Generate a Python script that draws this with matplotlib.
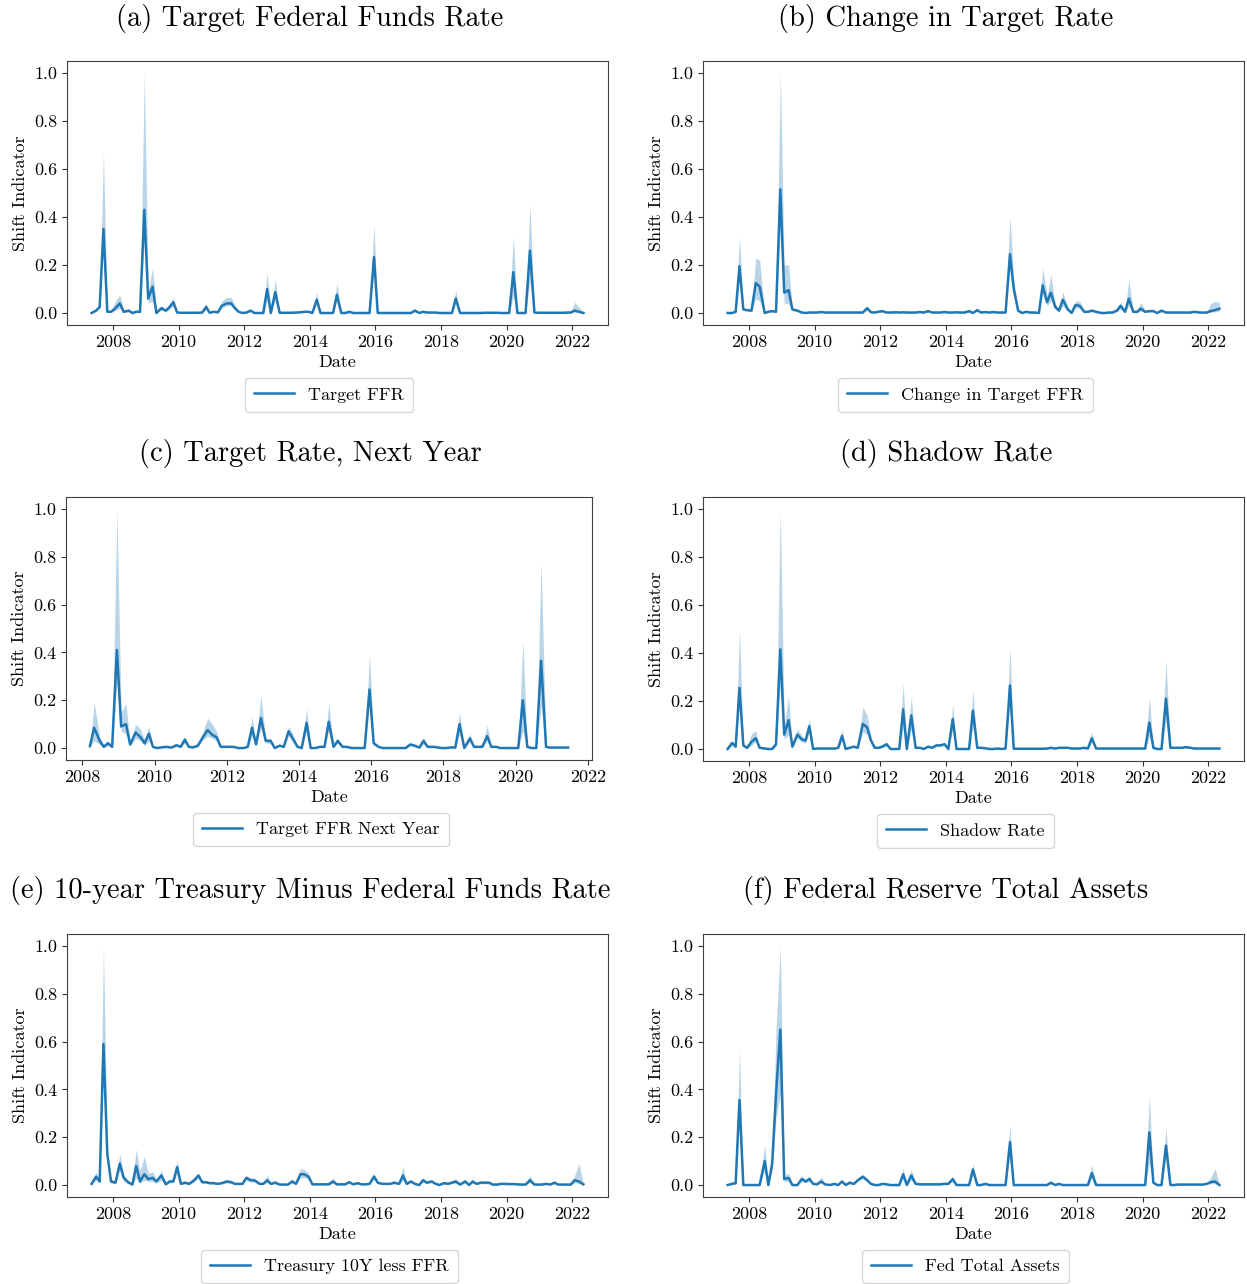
import numpy as np
import pandas as pd
import matplotlib
matplotlib.use("Agg")
import matplotlib.pyplot as plt
import matplotlib.dates as mdates

plt.rcParams['font.family'] = ['cmr10', 'DejaVu Serif']
plt.rcParams['mathtext.fontset'] = 'cm'
plt.rcParams['axes.formatter.use_mathtext'] = True
plt.rcParams['axes.unicode_minus'] = False

# meeting dates (one row per year)
dates = (
    ['2007-05-09', '2007-06-28', '2007-08-07', '2007-09-18', '2007-10-31', '2007-12-11'] +
    ['2008-01-30', '2008-03-18', '2008-04-30', '2008-06-25', '2008-08-05', '2008-09-16', '2008-10-29', '2008-12-16'] +
    ['2009-01-28', '2009-03-18', '2009-04-29', '2009-06-24', '2009-08-12', '2009-09-23', '2009-11-04', '2009-12-16'] +
    ['2010-01-27', '2010-03-16', '2010-04-28', '2010-06-23', '2010-08-10', '2010-09-21', '2010-11-03', '2010-12-14'] +
    ['2011-01-26', '2011-03-15', '2011-04-27', '2011-06-22', '2011-08-09', '2011-09-21', '2011-11-02', '2011-12-13'] +
    ['2012-01-25', '2012-03-13', '2012-04-25', '2012-06-20', '2012-08-01', '2012-09-13', '2012-10-24', '2012-12-12'] +
    ['2013-01-30', '2013-03-20', '2013-05-01', '2013-06-19', '2013-07-31', '2013-09-18', '2013-10-30', '2013-12-18'] +
    ['2014-01-29', '2014-03-19', '2014-04-30', '2014-06-18', '2014-07-30', '2014-09-17', '2014-10-29', '2014-12-17'] +
    ['2015-01-28', '2015-03-18', '2015-04-29', '2015-06-17', '2015-07-29', '2015-09-17', '2015-10-28', '2015-12-16'] +
    ['2016-01-27', '2016-03-16', '2016-04-27', '2016-06-15', '2016-07-27', '2016-09-21', '2016-11-02', '2016-12-14'] +
    ['2017-02-01', '2017-03-15', '2017-05-03', '2017-06-14', '2017-07-26', '2017-09-20', '2017-11-01', '2017-12-13'] +
    ['2018-01-31', '2018-03-21', '2018-05-02', '2018-06-13', '2018-08-01', '2018-09-26', '2018-11-08', '2018-12-19'] +
    ['2019-01-30', '2019-03-20', '2019-05-01', '2019-06-19', '2019-07-31', '2019-09-18', '2019-10-30', '2019-12-11'] +
    ['2020-01-29', '2020-03-15', '2020-04-29', '2020-06-10', '2020-07-29', '2020-09-16', '2020-11-05', '2020-12-16'] +
    ['2021-01-27', '2021-03-17', '2021-04-28', '2021-06-16', '2021-07-28', '2021-09-22', '2021-11-03', '2021-12-15'] +
    ['2022-01-26', '2022-03-16', '2022-05-04']
)
dates_c = dates[7:114]   # panel (c) covers Mar 2008 - Jun 2021

# (a) Target FFR
ffr_mean = [0, .01, .025, .35, .005, .005,
            .02, .04, .005, .01, 0, .005, .005, .43,
            .06, .11, 0, .02, .01, .025, .045, .002,
            .001, .001, .001, .001, .001, .002, .025, .001,
            .005, .003, .03, .04, .04, .02, .005, 0,
            .002, .01, 0, 0, 0, .10, 0, .087,
            .001, .001, .001, .001, .002, .003, .005, .005,
            0, .055, 0, 0, 0, 0, .076, 0,
            0, .005, 0, 0, 0, 0, 0, .233,
            0, 0, 0, 0, 0, 0, 0, 0,
            0, .01, 0, .005, .002, .002, .002, 0,
            0, 0, 0, .06, 0, 0, 0, 0,
            0, 0, .001, .001, .001, .001, 0, 0,
            0, .17, 0, 0, 0, .26, .002, .001,
            .001, .001, .001, .001, .001, .001, .002, .002,
            .01, .005, 0]
ffr_hi = [0, .012, .03, .67, .01, .008,
          .05, .075, .015, .015, .002, .008, .008, 1.0,
          .09, .19, .004, .03, .015, .035, .065, .004,
          .003, .003, .003, .003, .003, .004, .04, .003,
          .008, .006, .05, .065, .065, .03, .008, .002,
          .004, .015, .002, .002, .002, .17, .002, .14,
          .003, .003, .003, .003, .004, .005, .008, .008,
          .002, .085, .002, .002, .002, .002, .125, .002,
          .002, .008, .002, .002, .002, .002, .002, .37,
          .002, .002, .002, .002, .002, .002, .002, .002,
          .002, .015, .002, .008, .004, .004, .004, .002,
          .002, .002, .002, .095, .002, .002, .002, .002,
          .002, .002, .003, .003, .003, .003, .002, .002,
          .002, .32, .002, .002, .002, .455, .004, .003,
          .003, .003, .003, .003, .003, .003, .004, .004,
          .045, .025, .002]
ffr_lo = [0, .008, .02, .28, .002, .002,
          .01, .02, .002, .005, 0, .002, .002, .30,
          .04, .05, 0, .012, .005, .015, .03, 0,
          0, 0, 0, 0, 0, 0, .015, 0,
          .002, 0, .02, .03, .03, .01, .002, 0,
          0, .005, 0, 0, 0, .05, 0, .05,
          0, 0, 0, 0, 0, .001, .002, .002,
          0, .04, 0, 0, 0, 0, .05, 0,
          0, .002, 0, 0, 0, 0, 0, .17,
          0, 0, 0, 0, 0, 0, 0, 0,
          0, .005, 0, .002, 0, 0, 0, 0,
          0, 0, 0, .04, 0, 0, 0, 0,
          0, 0, 0, 0, 0, 0, 0, 0,
          0, .07, 0, 0, 0, .13, 0, 0,
          0, 0, 0, 0, 0, 0, 0, 0,
          .005, .001, 0]

# (b) Change in target FFR
chg_mean = [0, 0, .005, .195, .015, .012,
            .01, .125, .11, 0, .005, .008, .005, .515,
            .085, .095, .015, .01, .002, 0, .002, .002,
            .002, .004, .002, .002, .002, .002, .002, .002,
            .002, .002, .002, .002, .02, .003, .002, .005,
            .008, .002, .002, .003, .002, .003, .002, .002,
            .002, .004, .002, .008, .002, .002, .002, .004,
            .002, .002, .003, .002, .002, .008, 0, .012,
            .002, .004, .002, .004, .002, .002, .002, .245,
            .10, .01, 0, .005, .002, .002, 0, .115,
            .045, .085, .025, .01, .055, .015, 0, .033,
            .03, .005, .005, .01, .005, 0, 0, .002,
            .002, .01, .03, .005, .06, .005, .005, .018,
            .005, .008, .008, 0, .01, .002, .002, .002,
            .002, .002, .002, .002, .005, .002, .002, .002,
            .008, .012, .018]
chg_hi = [.003, .003, .008, .32, .02, .018,
          .015, .23, .22, .003, .008, .012, .008, 1.0,
          .20, .20, .02, .015, .004, .002, .004, .004,
          .004, .006, .004, .004, .004, .004, .004, .004,
          .004, .004, .004, .004, .03, .005, .004, .008,
          .012, .004, .004, .005, .004, .005, .004, .004,
          .004, .006, .004, .012, .004, .004, .004, .006,
          .004, .004, .005, .004, .004, .012, .002, .016,
          .004, .006, .004, .006, .004, .004, .004, .405,
          .14, .015, .002, .008, .004, .004, .002, .19,
          .07, .16, .04, .015, .09, .025, .003, .05,
          .05, .01, .008, .015, .008, .003, .003, .004,
          .004, .02, .045, .01, .14, .01, .01, .045,
          .01, .012, .012, .003, .015, .004, .004, .004,
          .004, .004, .004, .004, .008, .004, .004, .004,
          .04, .048, .045]
chg_lo = [0, 0, .002, .13, .01, .008,
          .005, .06, .05, 0, .002, .004, .002, .35,
          .04, .04, .01, .005, 0, 0, 0, 0,
          0, .002, 0, 0, 0, 0, 0, 0,
          0, 0, 0, 0, .012, .001, 0, .002,
          .004, 0, 0, .001, 0, .001, 0, 0,
          0, .002, 0, .004, 0, 0, 0, .002,
          0, 0, .001, 0, 0, .004, 0, .008,
          0, .002, 0, .002, 0, 0, 0, .18,
          .07, .005, 0, .002, 0, 0, 0, .08,
          .03, .05, .015, .005, .03, .008, 0, .02,
          .02, .002, .002, .005, .002, 0, 0, 0,
          0, .005, .015, .002, .03, .002, .002, .008,
          .002, .004, .004, 0, .005, 0, 0, 0,
          0, 0, 0, 0, .002, 0, 0, 0,
          .003, .005, .008]

# (c) Target FFR next year
ny_mean = [.008, .085, .03, .005, .02, .005, .41,
           .09, .10, .015, .065, .045, .02, .06, .005,
           0, .003, .005, .002, .012, .005, .035, .005,
           .003, .01, .04, .075, .055, .045, .005, .005,
           .005, .005, 0, 0, .005, .085, .015, .125,
           .03, .03, 0, .01, .005, .07, .04, .005,
           0, .105, 0, 0, .005, .005, .11, .005,
           .03, .005, .005, 0, 0, 0, 0, .245,
           .02, .005, 0, 0, 0, 0, 0, 0,
           .015, .01, .002, .03, .005, .005, .003, 0,
           0, .003, .002, .10, 0, .04, .005, .005,
           .005, .05, .005, .005, 0, 0, 0, 0,
           0, .20, .005, 0, 0, .365, .005, .002,
           .002, .002, .002, .002]
ny_hi = [.012, .19, .05, .01, .03, .01, 1.0,
         .15, .185, .025, .10, .08, .035, .09, .01,
         .003, .006, .008, .004, .018, .01, .05, .008,
         .006, .015, .06, .125, .10, .07, .008, .008,
         .008, .008, .002, .002, .008, .13, .025, .22,
         .04, .04, .003, .015, .008, .09, .06, .008,
         .003, .165, .003, .003, .008, .008, .185, .01,
         .04, .01, .008, .003, .003, .003, .003, .39,
         .03, .01, .003, .003, .003, .003, .003, .003,
         .02, .015, .004, .045, .008, .008, .005, .003,
         .003, .005, .004, .15, .003, .06, .008, .008,
         .008, .095, .008, .008, .003, .003, .003, .003,
         .003, .45, .008, .003, .003, .78, .008, .004,
         .004, .004, .004, .004]
ny_lo = [.004, .03, .015, .002, .01, .002, .27,
         .07, .06, .008, .04, .03, .01, .03, .002,
         0, 0, .002, 0, .006, .002, .02, .002,
         0, .005, .03, .05, .04, .03, .002, .002,
         .002, .002, 0, 0, .002, .05, .01, .08,
         .02, .02, 0, .005, .002, .05, .025, .002,
         0, .07, 0, 0, .002, .002, .07, .002,
         .02, .002, .002, 0, 0, 0, 0, .18,
         .012, .002, 0, 0, 0, 0, 0, 0,
         .01, .005, 0, .018, .002, .002, .001, 0,
         0, 0, 0, .06, 0, .025, .002, .002,
         .002, .03, .002, .002, 0, 0, 0, 0,
         0, .07, .002, 0, 0, .17, .002, 0,
         0, 0, 0, 0]

# (d) Shadow rate
sh_mean = [0, .025, .01, .255, .015, .005,
           .03, .045, .005, .002, 0, 0, .02, .415,
           .06, .12, .01, .06, .04, .035, .095, 0,
           .002, .002, .002, .002, .002, .005, .055, 0,
           .005, .01, .005, .105, .09, .035, .005, .005,
           .01, .02, 0, 0, 0, .165, 0, .14,
           .005, .005, 0, .01, .005, .015, .015, .02,
           0, .125, 0, 0, 0, 0, .16, .005,
           .005, .003, 0, 0, .002, 0, .002, .265,
           .001, .001, .001, .001, .001, .001, .001, .001,
           .002, .005, .002, .005, .005, .005, .002, .002,
           .002, .005, .002, .045, .002, .002, .002, .002,
           .002, .002, .002, .002, .002, .002, .002, .002,
           .002, .11, .005, 0, 0, .21, .005, .005,
           .005, .005, .008, .005, .002, .002, .002, .002,
           .002, .002, .002]
sh_hi = [.003, .035, .015, .50, .02, .008,
         .065, .075, .008, .004, .002, .002, .03, 1.0,
         .10, .22, .015, .085, .055, .045, .125, .003,
         .004, .004, .004, .004, .004, .008, .08, .002,
         .008, .015, .008, .175, .14, .05, .008, .008,
         .015, .025, .003, .003, .003, .275, .003, .22,
         .008, .008, .003, .015, .008, .02, .02, .025,
         .003, .185, .003, .003, .003, .003, .245, .008,
         .008, .006, .003, .003, .004, .003, .004, .425,
         .003, .003, .003, .003, .003, .003, .003, .003,
         .004, .008, .004, .008, .008, .008, .004, .004,
         .004, .008, .004, .07, .004, .004, .004, .004,
         .004, .004, .004, .004, .004, .004, .004, .004,
         .004, .215, .008, .002, .002, .37, .008, .008,
         .008, .008, .012, .008, .004, .004, .004, .004,
         .004, .004, .004]
sh_lo = [0, .015, .005, .18, .01, .002,
         .015, .03, .002, 0, 0, 0, .01, .27,
         .04, .06, .005, .045, .03, .025, .07, 0,
         0, 0, 0, 0, 0, .002, .035, 0,
         .002, .005, .002, .07, .06, .025, .002, .002,
         .005, .012, 0, 0, 0, .09, 0, .08,
         .002, .002, 0, .005, .002, .01, .01, .015,
         0, .08, 0, 0, 0, 0, .09, .002,
         .002, 0, 0, 0, 0, 0, 0, .18,
         0, 0, 0, 0, 0, 0, 0, 0,
         0, .002, 0, .002, .002, .002, 0, 0,
         0, .002, 0, .03, 0, 0, 0, 0,
         0, 0, 0, 0, 0, 0, 0, 0,
         0, .05, .002, 0, 0, .12, .002, .002,
         .002, .002, .004, .002, 0, 0, 0, 0,
         0, 0, 0]

# (e) 10Y treasury less FFR
ty_mean = [.005, .035, .015, .59, .13, .015,
           .01, .09, .03, .01, .002, .08, .015, .045,
           .025, .03, .015, .04, .003, .015, .015, .075,
           .005, .01, .005, .02, .04, .012, .012, .008,
           .008, .005, .008, .015, .012, .005, .005, .005,
           .03, .02, .02, .005, .005, .02, .005, .01,
           .002, .002, .002, .015, .005, .045, .045, .035,
           .003, .003, .003, .003, .003, .015, .003, .003,
           .003, .012, .003, .008, .003, .003, .005, .035,
           .01, .005, .005, .005, .01, .005, .04, .005,
           .015, .005, 0, .02, .01, .015, .005, 0,
           .008, .005, .01, .015, .002, .015, 0, .015,
           .005, .01, .01, .01, .002, .002, .005, .005,
           .004, .004, .003, .002, .002, .02, .002, .002,
           .002, .005, .002, .01, .002, .002, .002, .002,
           .02, .015, .003]
ty_hi = [.01, .055, .02, 1.0, .15, .025,
         .015, .13, .045, .015, .005, .15, .06, .12,
         .05, .055, .025, .06, .006, .025, .02, .105,
         .01, .015, .01, .03, .05, .018, .018, .012,
         .014, .01, .014, .022, .018, .01, .01, .01,
         .04, .03, .028, .01, .01, .04, .01, .02,
         .005, .005, .005, .025, .01, .07, .065, .05,
         .006, .006, .006, .006, .006, .03, .006, .006,
         .006, .018, .006, .012, .006, .006, .008, .05,
         .015, .008, .008, .008, .015, .008, .08, .008,
         .02, .008, .003, .03, .015, .02, .008, .003,
         .014, .01, .016, .025, .006, .022, .004, .022,
         .01, .015, .015, .015, .005, .005, .01, .01,
         .008, .008, .006, .005, .005, .04, .005, .005,
         .005, .01, .005, .016, .005, .005, .005, .005,
         .04, .09, .006]
ty_lo = [.002, .02, .01, .52, .11, .008,
         .005, .06, .015, .005, 0, .03, .008, .02,
         .015, .015, .008, .02, 0, .008, .01, .05,
         .002, .005, .002, .012, .028, .007, .007, .004,
         .004, .002, .004, .008, .007, .002, .002, .002,
         .02, .012, .012, .002, .002, .01, .002, .005,
         0, 0, 0, .008, .002, .03, .03, .025,
         .001, .001, .001, .001, .001, .008, .001, .001,
         .001, .007, .001, .004, .001, .001, .002, .025,
         .005, .002, .002, .002, .005, .002, .02, .002,
         .01, .002, 0, .012, .005, .01, .002, 0,
         .004, .002, .005, .008, 0, .008, 0, .008,
         .002, .005, .005, .005, 0, 0, .002, .002,
         .002, .002, .001, 0, 0, .01, 0, 0,
         0, .002, 0, .005, 0, 0, 0, 0,
         .01, .005, 0]

# (f) Fed total assets
ta_mean = [0, .005, .008, .355, 0, 0,
           0, 0, 0, .10, 0, .09, .38, .65,
           .025, .03, 0, 0, .025, .015, .025, .005,
           .003, .015, .003, 0, .005, 0, .015, 0,
           .01, .005, .02, .035, .02, .005, 0, 0,
           .005, .003, 0, 0, 0, .045, 0, .04,
           .005, .003, .003, .003, .003, .003, .003, .005,
           .005, .025, 0, 0, 0, 0, .065, 0,
           0, .005, 0, 0, 0, 0, 0, .18,
           0, 0, 0, 0, 0, 0, 0, 0,
           0, .01, 0, .005, 0, 0, 0, 0,
           0, 0, 0, .05, 0, 0, 0, 0,
           0, 0, 0, 0, 0, 0, 0, 0,
           0, .22, .01, 0, 0, .165, 0, 0,
           .002, .002, .002, .002, .002, .002, .002, .005,
           .012, .015, 0]
ta_hi = [.003, .008, .012, .57, .003, .003,
         .003, .003, .005, .17, .003, .12, .65, 1.0,
         .04, .05, .003, .003, .04, .02, .04, .008,
         .006, .035, .006, .003, .008, .003, .02, .003,
         .015, .008, .025, .045, .028, .008, .003, .003,
         .008, .005, .003, .003, .003, .07, .003, .065,
         .008, .005, .005, .005, .005, .005, .005, .008,
         .008, .035, .003, .003, .003, .003, .09, .003,
         .003, .008, .003, .003, .003, .003, .003, .25,
         .002, .002, .002, .002, .002, .002, .002, .002,
         .002, .015, .002, .008, .002, .002, .002, .002,
         .002, .002, .002, .085, .002, .002, .002, .002,
         .002, .002, .002, .002, .002, .002, .002, .002,
         .003, .375, .015, .003, .003, .24, .003, .003,
         .004, .004, .004, .004, .004, .004, .004, .008,
         .03, .07, .003]
ta_lo = [0, .002, .004, .28, 0, 0,
         0, 0, 0, .06, 0, .06, .28, .38,
         .015, .015, 0, 0, .015, .01, .015, .002,
         0, .008, 0, 0, .002, 0, .01, 0,
         .005, .002, .015, .028, .014, .002, 0, 0,
         .002, 0, 0, 0, 0, .025, 0, .02,
         .002, 0, 0, 0, 0, 0, 0, .002,
         .002, .015, 0, 0, 0, 0, .04, 0,
         0, .002, 0, 0, 0, 0, 0, .12,
         0, 0, 0, 0, 0, 0, 0, 0,
         0, .005, 0, .002, 0, 0, 0, 0,
         0, 0, 0, .03, 0, 0, 0, 0,
         0, 0, 0, 0, 0, 0, 0, 0,
         0, .09, .005, 0, 0, .11, 0, 0,
         0, 0, 0, 0, 0, 0, 0, .002,
         .005, .005, 0]

titles = ['(a) Target Federal Funds Rate', '(b) Change in Target Rate',
          '(c) Target Rate, Next Year', '(d) Shadow Rate',
          '(e) 10-year Treasury Minus Federal Funds Rate', '(f) Federal Reserve Total Assets']
labels = ['Target FFR', 'Change in Target FFR', 'Target FFR Next Year',
          'Shadow Rate', 'Treasury 10Y less FFR', 'Fed Total Assets']
series = [(dates, ffr_mean, ffr_lo, ffr_hi),
          (dates, chg_mean, chg_lo, chg_hi),
          (dates_c, ny_mean, ny_lo, ny_hi),
          (dates, sh_mean, sh_lo, sh_hi),
          (dates, ty_mean, ty_lo, ty_hi),
          (dates, ta_mean, ta_lo, ta_hi)]

W, H = 1247, 1284
# axes boxes in pixels: left, right, top, bottom
boxes = [(67, 608, 61, 325), (703, 1244, 61, 325),
         (66, 592, 497, 760), (703, 1244, 497, 761),
         (67, 608, 934, 1197), (703, 1244, 934, 1197)]
title_x = [310, 946, 310, 946, 310, 946]
title_y = [26, 26, 461, 461, 898, 898]

fig = plt.figure(figsize=(W / 100, H / 100), dpi=100)
blue = '#1f77b4'
for i in range(6):
    l, r, t, b = boxes[i]
    ax = fig.add_axes([l / W, 1 - b / H, (r - l) / W, (b - t) / H])
    d, m, lo, hi = series[i]
    x = pd.to_datetime(d)
    ax.fill_between(x, lo, hi, color=blue, alpha=0.3, linewidth=0)
    ax.plot(x, m, color=blue, lw=1.8, label=labels[i])
    ax.set_ylim(-0.05, 1.05)
    ax.set_yticks(np.arange(0, 1.01, 0.2))
    ax.yaxis.set_major_formatter(matplotlib.ticker.FormatStrFormatter('%.1f'))
    ax.xaxis.set_major_locator(mdates.YearLocator(2))
    ax.xaxis.set_major_formatter(mdates.DateFormatter('%Y'))
    ax.tick_params(labelsize=13, length=3.5, color='0.2')
    for s in ax.spines.values():
        s.set_color('0.25')
    ax.set_xlabel('Date', fontsize=13, labelpad=3)
    ax.set_ylabel('Shift Indicator', fontsize=13)
    ax.legend(loc='upper center', bbox_to_anchor=(0.485, -0.166), fontsize=13,
              handlelength=2.2, borderpad=0.5)
    fig.text(title_x[i] / W, 1 - title_y[i] / H, titles[i], fontsize=20.5,
             ha='center', va='baseline')

fig.savefig('out.png', dpi=100)
